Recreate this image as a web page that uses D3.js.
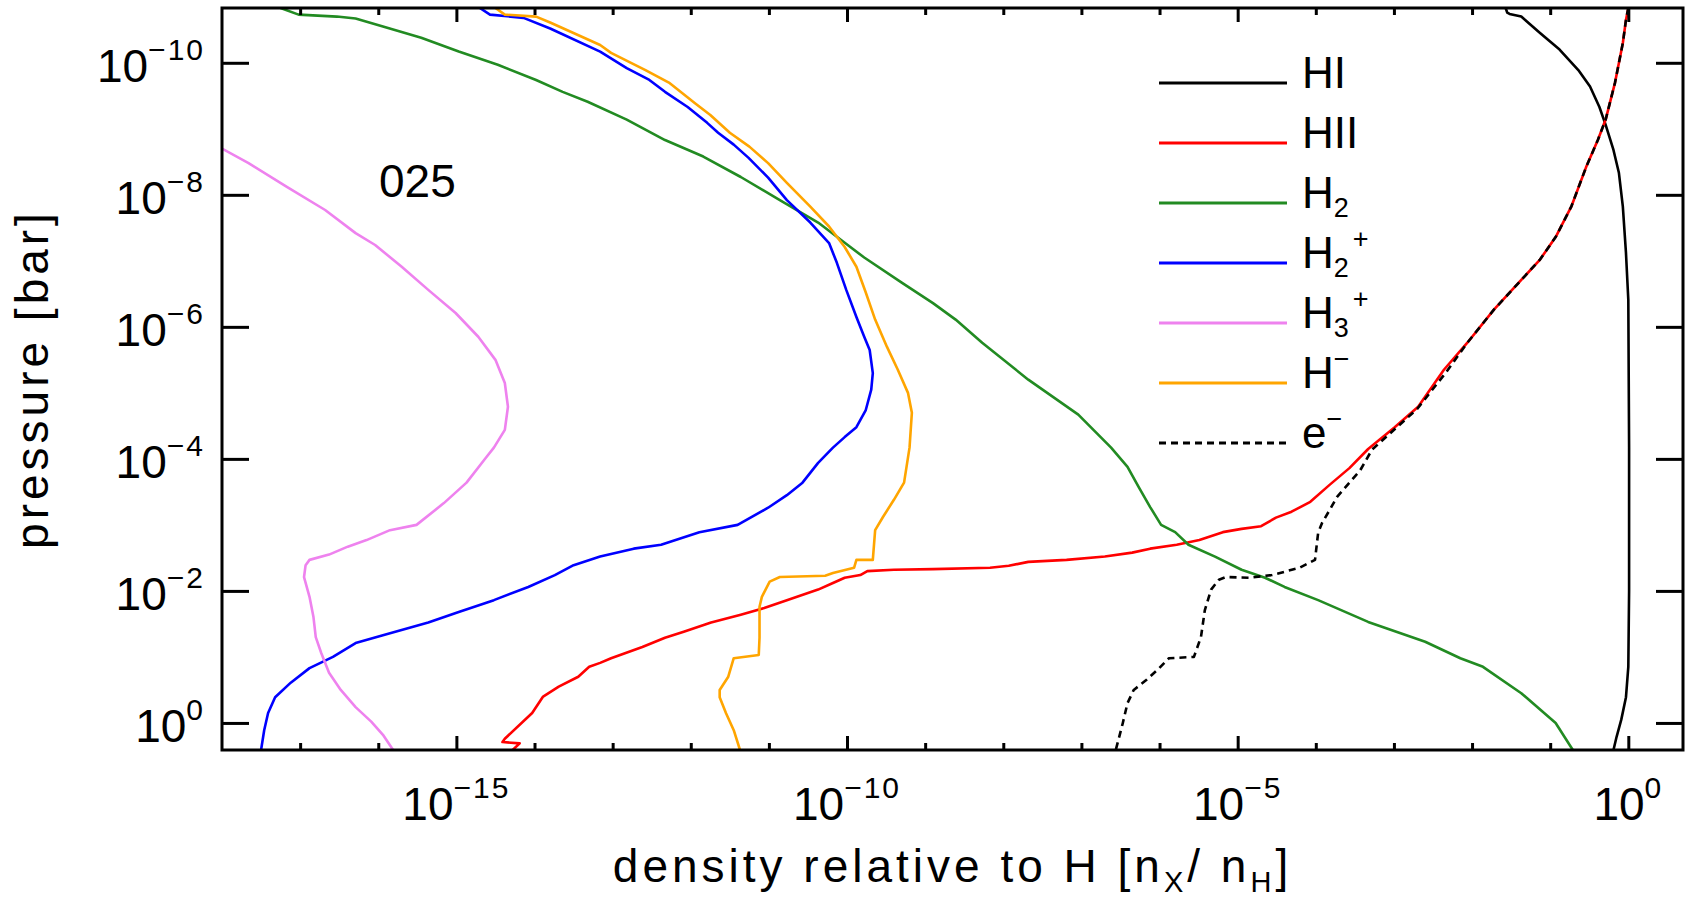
<!DOCTYPE html>
<html lang="en">

<head>
    <meta charset="utf-8">
    <title>Density relative to H vs pressure</title>
    <script type="text/javascript" src="https://d3js.org/d3.v7.min.js"></script>
    <style type="text/css">
        body { margin: 0; background: #fff; }
        text { font-family: 'Liberation Sans', Arial, sans-serif; fill: #000; }
    </style>
</head>

<body>
    <script type="text/javascript">
        //Curves, stored as [log10 density, log10 pressure]
        const hI = [[-1.57, -10.83], [-1.55, -10.76], [-1.52, -10.74], [-1.37, -10.70], [-1.13, -10.45], [-0.88, -10.20],
            [-0.64, -9.89], [-0.49, -9.64], [-0.37, -9.33], [-0.29, -9.06], [-0.19, -8.68], [-0.12, -8.33], [-0.07, -7.82],
            [-0.03, -7.12], [0.00, -6.41], [0.01, -4.17], [0.01, -2.00], [0.00, -0.85], [-0.03, -0.39], [-0.09, -0.05],
            [-0.15, 0.21], [-0.19, 0.41]]

        const hII = [[0.00, -10.83], [-0.03, -10.65], [-0.07, -10.30], [-0.17, -9.70], [-0.29, -9.14], [-0.39, -8.83],
            [-0.54, -8.42], [-0.73, -7.82], [-0.93, -7.36], [-1.13, -7.02], [-1.37, -6.71], [-1.72, -6.26], [-2.06, -5.76],
            [-2.36, -5.35], [-2.69, -4.79], [-2.99, -4.48], [-3.33, -4.15], [-3.57, -3.86], [-3.82, -3.61], [-4.07, -3.35],
            [-4.31, -3.20], [-4.51, -3.11], [-4.70, -2.98], [-4.95, -2.94], [-5.19, -2.89], [-5.49, -2.77], [-5.78, -2.70],
            [-6.12, -2.64], [-6.35, -2.58], [-6.70, -2.52], [-7.19, -2.47], [-7.68, -2.44], [-7.93, -2.38], [-8.17, -2.35],
            [-8.90, -2.33], [-9.40, -2.32], [-9.74, -2.30], [-9.83, -2.24], [-10.03, -2.20], [-10.18, -2.12], [-10.37, -2.02],
            [-10.77, -1.86], [-11.06, -1.74], [-11.36, -1.64], [-11.74, -1.52], [-12.09, -1.38], [-12.33, -1.29],
            [-12.62, -1.15], [-13.02, -0.98], [-13.16, -0.91], [-13.30, -0.85], [-13.44, -0.70], [-13.69, -0.55],
            [-13.89, -0.40], [-14.03, -0.15], [-14.38, 0.24], [-14.41, 0.29], [-14.19, 0.31], [-14.28, 0.41]]

        const h2 = [[-17.25, -10.83], [-17.02, -10.73], [-16.53, -10.70], [-16.29, -10.67], [-15.94, -10.55], [-15.45, -10.38],
            [-14.97, -10.17], [-14.47, -9.97], [-13.98, -9.74], [-13.64, -9.56], [-13.32, -9.41], [-12.82, -9.14],
            [-12.33, -8.83], [-11.84, -8.58], [-11.36, -8.27], [-10.86, -7.92], [-10.37, -7.58], [-10.08, -7.32],
            [-9.78, -7.05], [-9.30, -6.67], [-8.90, -6.36], [-8.61, -6.11], [-8.27, -5.76], [-7.68, -5.20], [-7.04, -4.67],
            [-6.62, -4.17], [-6.41, -3.88], [-6.27, -3.58], [-6.12, -3.27], [-5.98, -3.00], [-5.80, -2.89], [-5.63, -2.70],
            [-5.29, -2.52], [-4.95, -2.32], [-4.65, -2.20], [-4.40, -2.06], [-3.97, -1.86], [-3.33, -1.53], [-2.60, -1.23],
            [-2.15, -0.98], [-1.86, -0.85], [-1.37, -0.45], [-0.93, 0.00], [-0.71, 0.41]]

        const h2Plus = [[-14.70, -10.83], [-14.57, -10.73], [-14.14, -10.68], [-13.80, -10.52], [-13.16, -10.17],
            [-12.82, -9.92], [-12.53, -9.74], [-12.33, -9.56], [-12.04, -9.33], [-11.79, -9.09], [-11.65, -8.94],
            [-11.45, -8.76], [-11.26, -8.56], [-11.01, -8.26], [-10.77, -7.92], [-10.47, -7.58], [-10.23, -7.27],
            [-10.13, -6.97], [-10.01, -6.56], [-9.88, -6.15], [-9.78, -5.85], [-9.71, -5.65], [-9.67, -5.30], [-9.69, -5.05],
            [-9.76, -4.74], [-9.88, -4.48], [-10.03, -4.33], [-10.18, -4.17], [-10.37, -3.94], [-10.57, -3.64],
            [-10.77, -3.45], [-11.01, -3.26], [-11.40, -3.00], [-11.89, -2.89], [-12.38, -2.70], [-12.73, -2.64],
            [-13.16, -2.52], [-13.50, -2.39], [-13.74, -2.24], [-14.08, -2.06], [-14.52, -1.86], [-14.97, -1.68],
            [-15.36, -1.52], [-15.94, -1.33], [-16.29, -1.21], [-16.58, -1.00], [-16.88, -0.83], [-17.12, -0.61],
            [-17.32, -0.39], [-17.41, -0.15], [-17.46, 0.11], [-17.50, 0.41]]

        const h3Plus = [[-18.00, -8.70], [-17.66, -8.48], [-17.17, -8.12], [-16.68, -7.77], [-16.29, -7.42], [-16.04, -7.24],
            [-15.70, -6.91], [-15.36, -6.56], [-15.01, -6.21], [-14.72, -5.85], [-14.50, -5.50], [-14.38, -5.15],
            [-14.34, -4.79], [-14.38, -4.44], [-14.52, -4.17], [-14.62, -4.02], [-14.87, -3.64], [-15.16, -3.33],
            [-15.51, -3.00], [-15.85, -2.92], [-16.15, -2.77], [-16.39, -2.67], [-16.63, -2.55], [-16.88, -2.47],
            [-16.93, -2.39], [-16.95, -2.21], [-16.88, -1.91], [-16.83, -1.61], [-16.80, -1.30], [-16.73, -1.06],
            [-16.63, -0.76], [-16.48, -0.50], [-16.29, -0.24], [-16.09, -0.02], [-15.94, 0.18], [-15.81, 0.41]]

        const hMinus = [[-14.50, -10.83], [-14.38, -10.73], [-13.98, -10.70], [-13.80, -10.61], [-13.16, -10.27],
            [-13.02, -10.15], [-12.58, -9.89], [-12.28, -9.70], [-11.95, -9.39], [-11.75, -9.21], [-11.50, -8.94],
            [-11.25, -8.73], [-11.01, -8.48], [-10.77, -8.18], [-10.47, -7.82], [-10.23, -7.52], [-10.03, -7.21],
            [-9.88, -6.91], [-9.76, -6.52], [-9.64, -6.11], [-9.49, -5.70], [-9.35, -5.35], [-9.22, -5.00], [-9.17, -4.70],
            [-9.20, -4.17], [-9.27, -3.64], [-9.40, -3.38], [-9.54, -3.12], [-9.64, -2.92], [-9.67, -2.47], [-9.88, -2.47],
            [-9.91, -2.35], [-10.18, -2.27], [-10.28, -2.23], [-10.86, -2.21], [-10.99, -2.14], [-11.09, -1.91],
            [-11.12, -1.76], [-11.12, -1.29], [-11.13, -1.03], [-11.45, -0.98], [-11.52, -0.70], [-11.63, -0.50],
            [-11.63, -0.39], [-11.55, -0.15], [-11.45, 0.11], [-11.37, 0.41]]

        const eMinus = [[0.00, -10.83], [-0.03, -10.65], [-0.07, -10.30], [-0.17, -9.70], [-0.29, -9.14], [-0.39, -8.83],
            [-0.54, -8.42], [-0.73, -7.82], [-0.93, -7.36], [-1.13, -7.02], [-1.37, -6.71], [-1.72, -6.26], [-2.06, -5.76],
            [-2.34, -5.30], [-2.70, -4.76], [-2.98, -4.46], [-3.28, -4.14], [-3.43, -3.83], [-3.57, -3.64], [-3.73, -3.42],
            [-3.82, -3.23], [-3.92, -3.03], [-3.97, -2.88], [-4.01, -2.47], [-4.21, -2.35], [-4.56, -2.24], [-4.85, -2.20],
            [-5.15, -2.21], [-5.24, -2.17], [-5.34, -2.02], [-5.42, -1.71], [-5.47, -1.30], [-5.56, -1.00], [-5.88, -0.98],
            [-6.03, -0.80], [-6.17, -0.65], [-6.33, -0.50], [-6.41, -0.30], [-6.47, 0.00], [-6.56, 0.41]]

        //Tick values and labels
        const xMajor = [-15, -10, -5, 0]
        const xMinor = [-17, -16, -14, -13, -12, -11, -9, -8, -7, -6, -4, -3, -2, -1]
        const yMajor = [-10, -8, -6, -4, -2, 0]

        //Legend labels, split into [text, position] parts
        const legendLabels = [
            [['H', ''], ['I', '']],
            [['H', ''], ['II', '']],
            [['H', ''], ['2', 'sub']],
            [['H', ''], ['2', 'sub'], ['+', 'sup']],
            [['H', ''], ['3', 'sub'], ['+', 'sup']],
            [['H', ''], ['\u2212', 'sup']],
            [['e', ''], ['\u2212', 'sup']]
        ]
        const modelLabel = '025'

        //Series styling
        const series = [
            { data: hI, color: '#000000', dash: null },
            { data: hII, color: '#ff0000', dash: null },
            { data: h2, color: '#228b22', dash: null },
            { data: h2Plus, color: '#0000ff', dash: null },
            { data: h3Plus, color: '#ee82ee', dash: null },
            { data: hMinus, color: '#ffa500', dash: null },
            { data: eMinus, color: '#000000', dash: '7,5' }
        ]

        //Canvas attributes
        const canvasWidth = 1700
        const canvasHeight = 900
        const plotLeft = 222, plotRight = 1683, plotTop = 8, plotBottom = 750

        //Scales (log on both axes)
        const xScale = d3.scaleLog()
            .domain([1e-18, Math.pow(10, 0.7)])
            .range([plotLeft, plotRight])
        const yScale = d3.scaleLog()
            .domain([Math.pow(10, 0.41), Math.pow(10, -10.83)])
            .range([plotBottom, plotTop])

        const svg = d3.select('body')
            .append('svg')
            .attr('width', canvasWidth)
            .attr('height', canvasHeight)

        svg.append('rect')
            .attr('width', canvasWidth)
            .attr('height', canvasHeight)
            .attr('fill', '#fff')

        svg.append('clipPath')
            .attr('id', 'plot-clip')
            .append('rect')
            .attr('x', plotLeft)
            .attr('y', plotTop)
            .attr('width', plotRight - plotLeft)
            .attr('height', plotBottom - plotTop)

        //Curves
        const line = d3.line()
            .x(d => xScale(Math.pow(10, d[0])))
            .y(d => yScale(Math.pow(10, d[1])))

        const curves = svg.append('g')
            .attr('class', 'curves')
            .attr('clip-path', 'url(#plot-clip)')
        curves.selectAll('path')
            .data(series)
            .enter()
            .append('path')
            .attr('d', d => line(d.data))
            .attr('fill', 'none')
            .attr('stroke', d => d.color)
            .attr('stroke-width', 2.6)
            .attr('stroke-dasharray', d => d.dash)
            .attr('stroke-linejoin', 'round')

        //Axes: ticks point inwards on all four sides
        const pow = d => Math.pow(10, d)
        function tickAxis(axis, values, size) {
            return axis.tickValues(values.map(pow)).tickSize(size).tickFormat('')
        }
        const axes = [
            [tickAxis(d3.axisBottom(xScale), xMajor, -14), 'translate(0,' + plotBottom + ')'],
            [tickAxis(d3.axisBottom(xScale), xMinor, -7), 'translate(0,' + plotBottom + ')'],
            [tickAxis(d3.axisTop(xScale), xMajor, -14), 'translate(0,' + plotTop + ')'],
            [tickAxis(d3.axisTop(xScale), xMinor, -7), 'translate(0,' + plotTop + ')'],
            [tickAxis(d3.axisLeft(yScale), yMajor, -27), 'translate(' + plotLeft + ',0)'],
            [tickAxis(d3.axisRight(yScale), yMajor, -27), 'translate(' + plotRight + ',0)']
        ]
        axes.forEach(a => {
            const g = svg.append('g').attr('transform', a[1]).call(a[0])
            g.select('.domain').remove()
            g.selectAll('line').attr('stroke', '#000').attr('stroke-width', 3)
        })

        svg.append('rect')
            .attr('x', plotLeft)
            .attr('y', plotTop)
            .attr('width', plotRight - plotLeft)
            .attr('height', plotBottom - plotTop)
            .attr('fill', 'none')
            .attr('stroke', '#000')
            .attr('stroke-width', 3)

        //Tick labels as 10 with a superscript exponent
        function powerLabel(sel) {
            sel.append('tspan').text('10')
            sel.append('tspan')
                .attr('dy', -22)
                .attr('font-size', 30)
                .attr('letter-spacing', 2)
                .text(d => d < 0 ? '\u2212' + (-d) : String(d))
        }
        svg.append('g').selectAll('text')
            .data(xMajor)
            .enter()
            .append('text')
            .attr('x', d => xScale(pow(d)))
            .attr('y', plotBottom + 70)
            .attr('text-anchor', 'middle')
            .attr('font-size', 46)
            .call(powerLabel)

        svg.append('g').selectAll('text')
            .data(yMajor)
            .enter()
            .append('text')
            .attr('x', 205)
            .attr('y', d => yScale(pow(d)) + 19)
            .attr('text-anchor', 'end')
            .attr('font-size', 46)
            .call(powerLabel)

        //Axis titles
        const xTitle = svg.append('text')
            .attr('x', (plotLeft + plotRight) / 2)
            .attr('y', 882)
            .attr('text-anchor', 'middle')
            .attr('font-size', 46)
            .attr('letter-spacing', 4)
        xTitle.append('tspan').text('density relative to H [n')
        xTitle.append('tspan').attr('dy', 10).attr('font-size', 29).text('X')
        xTitle.append('tspan').attr('dy', -10).text('/ n')
        xTitle.append('tspan').attr('dy', 10).attr('font-size', 29).text('H')
        xTitle.append('tspan').attr('dy', -10).text(']')

        svg.append('text')
            .attr('transform', 'translate(48,' + (plotTop + plotBottom) / 2 + ') rotate(-90)')
            .attr('text-anchor', 'middle')
            .attr('font-size', 46)
            .attr('letter-spacing', 4)
            .text('pressure [bar]')

        //Model label
        svg.append('text')
            .attr('x', 379)
            .attr('y', 197)
            .attr('font-size', 46)
            .text(modelLabel)

        //Legend: each part of a label is its own text, placed after the previous one
        const shifts = { '': 0, 'sub': 9, 'sup': -20 }
        const legend = svg.append('g').attr('class', 'legend')
        legendLabels.forEach((parts, i) => {
            const ly = 83 + 60 * i
            legend.append('line')
                .attr('x1', 1159)
                .attr('x2', 1287)
                .attr('y1', ly)
                .attr('y2', ly)
                .attr('stroke', series[i].color)
                .attr('stroke-width', 3)
                .attr('stroke-dasharray', series[i].dash)
            let tx = 1302
            parts.forEach(p => {
                const t = legend.append('text')
                    .attr('x', tx)
                    .attr('y', ly + 5 + shifts[p[1]])
                    .attr('font-size', p[1] ? 27 : 44)
                    .text(p[0])
                tx += t.node().getComputedTextLength() + (p[1] === 'sub' ? 4 : 0)
            })
        })
    </script>
</body>

</html>
